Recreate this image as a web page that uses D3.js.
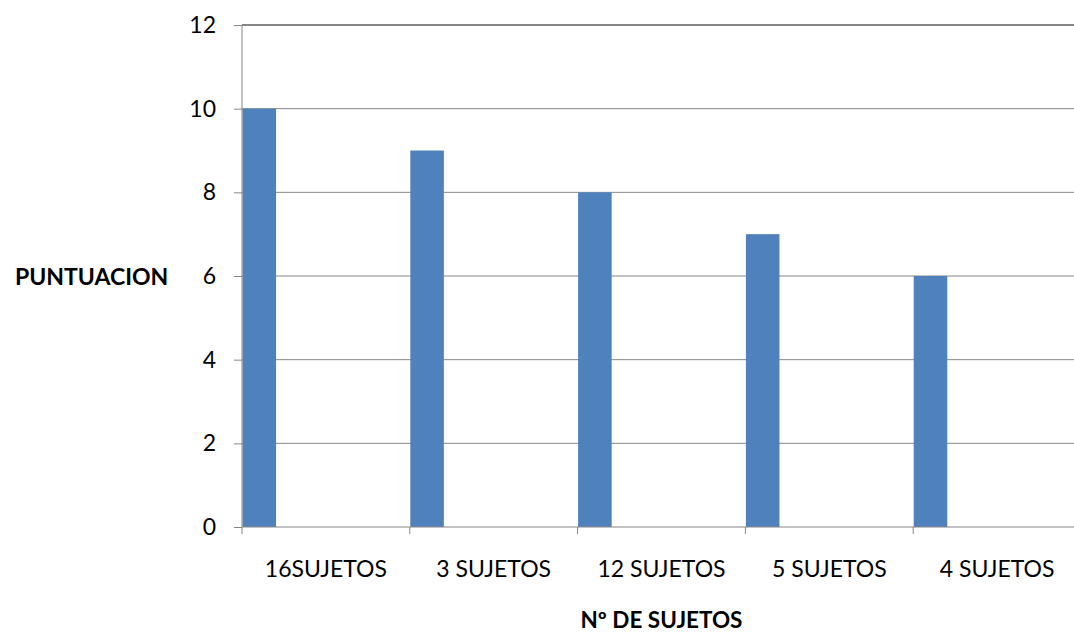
<!DOCTYPE html>
<html><head><meta charset="utf-8">
<script src="https://cdn.jsdelivr.net/npm/d3@7"></script>
<style>body{margin:0;background:#fff}svg{display:block}text{font-family:Lato,"Open Sans",sans-serif}</style>
</head><body><svg id="c" width="1074" height="635"></svg>
<script>
const categories = ["16SUJETOS","3 SUJETOS","12 SUJETOS","5 SUJETOS","4 SUJETOS"];
const values = [10, 9, 8, 7, 6];
const yTicks = [0, 2, 4, 6, 8, 10, 12];
const yTitle = "PUNTUACION";
const xTitle = "Nº DE SUJETOS";

const svg = d3.select("#c");
const x0 = 242, x1 = 1081, yTop = 25, yBot = 527;
const x = d3.scaleBand().domain(categories).range([x0, x1]).padding(0);
const y = d3.scaleLinear().domain([0, 12]).range([yBot, yTop]);
const grid = "#868686";

// gridlines
svg.append("g").selectAll("line").data(yTicks.filter(t => t > 0)).join("line")
  .attr("x1", x0).attr("x2", 1074)
  .attr("y1", d => y(d)).attr("y2", d => y(d))
  .attr("stroke", grid).attr("stroke-width", d => d === 12 ? 2 : 1);

// bars
const bw = x.bandwidth() * 0.2;
svg.append("g").selectAll("rect").data(values).join("rect")
  .attr("x", (d, i) => x(categories[i]) + 0.5)
  .attr("y", d => y(d))
  .attr("width", bw)
  .attr("height", d => y(0) - y(d))
  .attr("fill", "#4f81bd");

// y axis
const ya = svg.append("g").attr("transform", `translate(${x0},0)`)
  .call(d3.axisLeft(y).tickValues(yTicks).tickSize(8).tickPadding(18));
ya.select(".domain").attr("stroke", grid).attr("d", `M0,${yTop}V${yBot}`);
ya.selectAll(".tick line").attr("stroke", grid);
ya.selectAll(".tick text").attr("font-size", 23).attr("fill", "#000")
  .attr("font-family", "Lato, sans-serif");

// x axis
const xa = svg.append("g").attr("transform", `translate(0,${yBot})`)
  .call(d3.axisBottom(x).tickSize(0).tickPadding(34));
xa.select(".domain").attr("stroke", grid).attr("d", `M${x0},0H1074`);
xa.selectAll(".tick text").attr("font-size", 23).attr("fill", "#000")
  .attr("font-family", "Lato, sans-serif");
// boundary tick marks
svg.append("g").selectAll("line").data(categories).join("line")
  .attr("x1", d => x(d)).attr("x2", d => x(d))
  .attr("y1", yBot).attr("y2", yBot + 7)
  .attr("stroke", grid);

// titles
svg.append("text").attr("x", 15).attr("y", 285).attr("font-size", 23)
  .attr("font-weight", "bold").attr("fill", "#000").text(yTitle);
svg.append("text").attr("x", (x0 + x1) / 2).attr("y", 628).attr("text-anchor", "middle")
  .attr("font-size", 22.5).attr("font-weight", "bold").attr("fill", "#000").text(xTitle);
</script></body></html>
